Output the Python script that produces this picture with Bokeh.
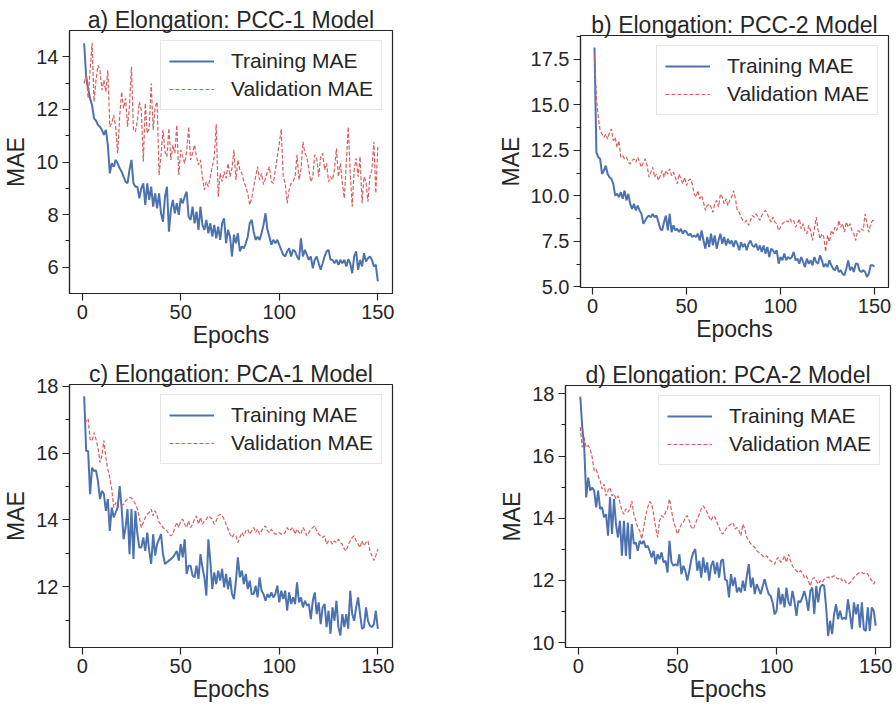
from bokeh.plotting import figure
from bokeh.models import Range1d, FixedTicker, PrintfTickFormatter, Legend, LegendItem
from bokeh.layouts import column, row
from bokeh.embed import file_html
from bokeh.resources import INLINE

epochs = list(range(1, 151))
x_ticks = [0, 50, 100, 150]

a_train = [14.51,13.24,12.80,12.42,12.16,11.66,11.57,11.41,11.34,11.22,
           11.03,11.22,10.65,9.57,9.95,9.82,10.08,9.95,9.76,9.63,
           9.44,9.25,9.19,9.70,10.08,9.19,9.06,9.06,8.62,9.00,
           9.19,8.37,9.19,8.56,9.06,8.30,8.81,8.24,8.81,8.05,
           7.73,8.68,9.06,7.35,8.18,8.56,8.05,8.43,7.99,8.62,
           8.43,8.68,8.87,7.92,7.80,8.30,7.67,8.11,7.42,8.30,
           7.61,7.42,7.80,7.29,7.67,7.16,7.61,7.10,7.54,7.04,
           7.67,7.86,6.91,7.42,7.16,6.41,7.23,6.91,7.29,6.60,
           6.79,6.72,6.91,7.16,7.67,7.80,7.35,7.04,7.16,7.04,
           7.29,7.61,8.05,7.42,7.16,6.85,7.04,6.91,7.04,6.85,
           6.66,6.47,6.41,6.60,6.72,6.41,6.66,6.60,6.41,6.28,
           7.10,6.41,6.66,6.47,6.28,6.41,5.96,6.28,6.41,6.15,
           5.90,6.15,6.41,6.60,6.66,6.28,6.28,6.15,6.28,6.09,
           6.28,6.15,6.28,6.03,6.30,6.15,5.77,6.41,6.60,5.90,
           6.28,6.03,6.53,6.22,6.34,6.41,6.28,6.03,6.09,5.46]
a_val = [12.99,13.37,12.42,13.49,14.53,12.29,13.11,13.68,13.49,12.73,
         13.11,12.67,13.49,11.34,11.47,11.79,11.34,10.33,11.72,12.67,
         12.04,12.42,11.34,12.16,13.62,11.22,11.15,11.59,12.29,11.98,
         10.01,12.23,11.09,11.28,12.99,11.22,12.10,12.29,9.51,10.27,
         11.22,10.39,10.20,11.28,10.08,10.65,10.33,11.41,9.51,10.46,
         10.20,9.95,10.39,11.34,10.08,10.33,10.65,10.20,9.89,10.08,
         9.44,8.94,9.25,9.06,9.44,9.82,10.20,11.43,8.68,9.57,
         9.25,9.63,9.38,9.95,9.44,9.76,10.46,9.32,10.08,9.70,
         9.57,9.25,9.06,8.81,8.37,8.62,9.06,9.44,9.82,9.32,
         9.57,9.14,9.38,9.63,9.82,9.25,9.19,9.70,10.20,10.71,
         11.25,9.44,9.19,8.43,8.94,9.19,9.25,9.44,10.27,9.32,
         9.70,10.77,10.33,10.20,9.70,9.25,9.44,10.27,10.14,9.44,
         10.20,10.33,9.70,9.95,9.25,9.44,9.32,9.70,10.52,9.44,
         9.95,9.19,8.62,9.95,11.34,9.57,8.30,9.70,10.14,9.44,
         10.20,8.43,9.44,9.25,8.49,9.44,9.70,10.77,8.81,10.58]

b_train = [18.14,12.40,12.12,12.03,11.20,11.39,11.66,11.20,11.02,10.93,
           10.66,10.02,10.11,9.93,10.20,9.84,10.29,9.75,10.11,9.56,
           9.29,9.56,9.20,9.47,9.20,9.01,8.47,8.65,8.83,8.92,
           8.83,9.01,8.83,8.92,8.56,8.19,8.10,8.56,8.92,8.10,
           9.01,8.01,8.38,8.10,8.19,8.01,8.19,7.92,8.10,8.01,
           7.83,7.92,7.74,7.83,7.74,7.92,7.55,8.10,7.55,7.10,
           7.74,7.19,7.92,7.28,7.83,7.10,7.55,7.92,7.37,7.74,
           7.28,7.64,7.37,7.55,7.19,7.55,7.37,7.01,7.46,7.19,
           7.37,7.01,7.37,7.55,7.28,7.19,7.37,7.01,7.28,6.92,
           7.28,6.83,7.19,6.64,7.10,7.01,6.83,7.01,6.28,6.64,
           6.46,6.83,6.46,6.64,6.55,6.64,6.92,6.46,6.55,6.28,
           6.64,6.37,6.09,6.55,6.28,6.46,6.19,6.64,6.37,6.28,
           6.73,6.46,6.09,6.28,6.09,6.46,6.19,6.00,5.91,6.19,
           5.82,5.91,5.73,5.64,6.00,6.46,5.91,6.09,5.82,6.28,
           6.28,5.91,5.82,5.91,5.82,5.55,5.73,6.19,6.19,6.13]
b_val = [17.77,15.40,14.31,13.58,13.39,13.21,13.39,13.12,13.48,13.67,
         13.03,13.21,12.66,13.03,12.12,12.21,12.03,12.12,11.84,11.75,
         11.93,12.03,11.84,12.12,11.84,11.57,11.84,12.03,11.66,11.02,
         11.30,11.57,11.02,11.20,10.84,11.11,11.39,11.02,11.39,11.20,
         11.48,11.11,11.30,11.02,10.66,11.20,10.93,10.66,11.02,10.57,
         10.84,10.93,10.66,10.11,9.93,10.29,9.84,10.02,9.65,9.20,
         9.47,9.56,9.38,9.10,9.56,9.75,9.38,10.11,9.93,9.56,
         9.84,9.47,9.75,9.93,10.29,9.84,9.20,9.10,8.83,8.65,
         8.56,8.65,8.38,8.65,8.92,8.83,9.01,8.83,8.65,8.92,
         9.10,9.20,9.01,8.74,8.56,8.83,8.56,8.47,8.10,8.28,
         8.47,8.56,8.65,8.56,8.74,8.56,8.65,8.28,8.47,8.74,
         8.19,8.47,8.10,7.92,8.38,8.10,7.55,8.19,8.83,8.10,
         7.64,7.92,7.74,6.92,7.83,7.46,8.10,7.92,8.28,8.10,
         8.65,8.28,8.47,8.01,8.56,8.28,8.47,8.10,7.92,7.55,
         8.10,8.01,8.19,8.10,9.01,8.47,8.01,8.47,8.65,8.65]

c_train = [17.70,16.06,16.06,14.77,15.56,15.46,15.48,15.16,14.62,14.87,
           14.77,14.27,14.62,13.67,14.37,14.07,14.22,14.37,15.01,14.37,
           13.42,13.77,14.32,12.97,14.32,12.83,14.27,13.57,13.17,13.17,
           13.47,13.07,13.62,13.07,12.68,13.57,12.93,13.27,13.42,13.57,
           12.97,12.68,12.73,12.78,12.83,12.88,12.97,13.07,12.78,13.27,
           12.88,13.42,12.38,12.63,12.63,12.33,12.28,12.63,12.23,12.97,
           12.58,12.28,11.73,13.42,12.78,11.93,12.43,12.08,12.48,12.18,
           12.53,11.98,12.38,11.93,12.28,11.78,11.63,12.18,12.88,12.28,
           12.48,12.08,12.38,11.93,12.18,11.78,11.78,12.03,11.68,12.28,
           11.88,11.78,11.58,11.78,11.68,11.83,11.68,11.78,12.03,11.53,
           11.88,11.63,11.88,11.28,11.83,11.48,11.68,11.48,12.13,11.53,
           11.68,11.38,11.58,11.43,11.48,11.03,11.58,11.83,11.18,11.53,
           10.88,11.38,11.48,10.79,11.28,10.59,11.38,10.98,11.58,10.79,
           10.54,11.18,10.79,11.18,10.74,11.88,11.18,10.98,11.38,11.68,
           11.18,10.74,10.79,11.38,10.98,10.83,10.79,10.88,11.28,10.74]
c_val = [17.00,16.95,17.03,16.41,16.36,16.61,16.41,16.16,15.71,15.91,
         16.38,15.86,15.51,15.26,14.91,14.37,14.52,14.37,14.42,14.42,
         14.47,14.57,14.62,14.67,14.65,14.57,14.47,14.32,14.07,13.77,
         13.92,14.07,14.17,14.22,14.32,14.12,14.27,14.12,13.92,13.87,
         13.77,13.72,13.67,13.57,13.52,13.57,13.77,13.92,13.77,13.97,
         14.02,13.87,13.77,13.97,13.77,13.87,14.02,14.12,13.87,14.07,
         13.87,13.97,14.02,14.12,14.07,14.02,13.87,13.97,14.12,14.17,
         14.12,14.02,13.87,13.72,13.57,13.47,13.57,13.52,13.32,13.47,
         13.62,13.52,13.67,13.72,13.57,13.67,13.77,13.62,13.72,13.57,
         13.67,13.77,13.82,13.67,13.62,13.72,13.62,13.57,13.57,13.62,
         13.57,13.57,13.62,13.77,13.67,13.72,13.77,13.57,13.72,13.62,
         13.57,13.77,13.67,13.52,13.62,13.72,13.77,13.82,13.67,13.57,
         13.52,13.47,13.52,13.27,13.37,13.37,13.27,13.37,13.32,13.42,
         13.32,13.27,13.12,13.07,13.27,13.37,13.47,13.52,13.37,13.27,
         13.17,13.37,13.22,13.32,13.37,13.07,12.93,12.78,12.93,13.12]

d_train = [17.91,16.93,16.28,14.67,15.31,14.89,14.99,14.89,14.35,14.89,
           14.30,14.35,14.03,14.13,13.44,14.67,13.49,14.62,13.81,13.38,
           13.92,12.79,13.92,12.79,13.86,12.68,13.81,13.17,13.22,12.95,
           13.27,13.17,13.27,13.06,13.11,12.95,12.74,12.95,12.52,12.84,
           12.68,12.90,12.58,12.63,12.25,13.27,12.58,12.47,12.52,12.47,
           12.84,12.20,12.47,12.31,11.99,12.31,12.68,12.90,13.01,12.31,
           12.63,12.09,12.74,12.25,12.58,11.99,12.47,12.63,12.20,12.58,
           12.09,12.63,12.68,12.04,11.99,11.45,12.20,11.82,12.09,11.61,
           11.77,11.61,11.99,11.66,12.15,12.52,11.77,12.09,11.56,11.88,
           11.72,11.56,11.82,12.04,11.77,11.56,11.50,11.29,10.91,11.02,
           11.77,11.23,11.56,11.13,11.77,11.29,11.18,11.66,11.34,10.86,
           11.34,11.29,11.45,11.66,11.39,11.02,11.66,11.77,10.91,11.82,
           11.29,11.77,11.86,11.82,11.13,10.21,10.70,10.27,10.91,11.23,
           10.75,11.02,10.75,10.80,10.75,11.39,10.91,10.43,11.29,10.91,
           11.23,10.48,11.29,10.43,10.37,11.13,10.37,11.13,11.02,10.54]
d_val = [16.93,16.28,16.60,16.28,16.34,16.23,15.96,15.53,15.58,15.37,
         15.21,14.94,15.10,14.72,14.89,14.99,14.72,14.78,14.62,14.72,
         14.51,14.24,14.13,14.30,14.19,14.30,14.56,14.13,13.92,13.70,
         13.60,13.33,13.70,14.08,14.35,14.54,14.46,14.13,13.70,13.38,
         13.92,14.08,14.03,14.19,14.30,14.62,14.24,13.92,13.70,13.49,
         13.65,13.81,13.86,14.03,14.08,13.92,13.70,13.65,13.81,13.97,
         14.13,14.30,14.40,14.30,14.19,14.03,13.92,14.08,14.03,13.86,
         13.70,13.54,13.49,13.60,13.70,13.76,13.81,13.86,13.65,13.70,
         13.60,13.44,13.81,13.65,13.38,13.27,13.17,13.11,13.06,12.95,
         12.90,12.84,12.79,12.74,12.79,12.68,12.63,12.58,12.52,12.68,
         12.74,12.58,12.63,12.79,12.58,12.84,12.63,12.47,12.36,12.31,
         12.25,12.31,12.25,12.09,12.15,11.99,11.82,12.04,12.09,11.99,
         11.88,11.99,11.93,12.04,12.09,12.11,12.06,12.11,12.15,12.09,
         12.04,12.09,11.99,12.04,11.93,11.88,11.93,11.99,12.09,12.15,
         12.22,12.25,12.25,12.22,12.25,12.20,12.09,11.99,11.88,12.01]

titles = ["a) Elongation: PCC-1 Model", "b) Elongation: PCC-2 Model",
          "c) Elongation: PCA-1 Model", "d) Elongation: PCA-2 Model"]
labels = ["Training MAE", "Validation MAE"]

FONT = "Liberation Sans"
TXT = "#262626"
BLUE = "#4C72B0"
RED = "#D65F5F"


def make_panel(title, train, val, yr, yticks, yminor, yfmt, w, h, bl, br, bt, bb):
    p = figure(width=w, height=h, x_range=Range1d(-6.45, 157.45), y_range=Range1d(*yr),
               output_backend="svg", toolbar_location=None, title=title,
               min_border_left=bl, min_border_right=br, min_border_top=bt, min_border_bottom=bb)
    try:
        p.frame_align = False
    except Exception:
        pass
    p.background_fill_color = "white"
    p.border_fill_color = "white"
    p.outline_line_color = TXT
    p.outline_line_width = 1.2
    p.xgrid.visible = False
    p.ygrid.visible = False

    p.title.text_font = FONT
    p.title.text_font_size = "23px"
    p.title.text_font_style = "normal"
    p.title.text_color = TXT
    p.title.align = "center"
    try:
        p.title.standoff = -4
    except Exception:
        p.title.standoff = 0

    for ax in (p.xaxis, p.yaxis):
        ax.axis_line_color = TXT
        ax.axis_line_width = 1.2
        ax.major_tick_line_color = TXT
        ax.major_tick_line_width = 1.2
        ax.minor_tick_line_color = TXT
        ax.minor_tick_line_width = 1.0
        ax.major_tick_out = 7
        ax.major_tick_in = 0
        ax.minor_tick_out = 4
        ax.minor_tick_in = 0
        ax.major_label_text_font = FONT
        ax.major_label_text_font_size = "20px"
        ax.major_label_text_color = TXT
        ax.major_label_standoff = 4
        ax.axis_label_text_font = FONT
        ax.axis_label_text_font_size = "23px"
        ax.axis_label_text_font_style = "normal"
        ax.axis_label_text_color = TXT
        ax.axis_label_standoff = 0

    p.xaxis.ticker = FixedTicker(ticks=x_ticks, minor_ticks=[])
    p.xaxis.minor_tick_line_color = None
    p.yaxis.ticker = FixedTicker(ticks=yticks, minor_ticks=yminor)
    p.yaxis.formatter = PrintfTickFormatter(format=yfmt)
    p.yaxis.axis_label_standoff = 4
    p.xaxis.axis_label = "Epochs"
    p.yaxis.axis_label = "MAE"

    r1 = p.line(epochs, train, line_color=BLUE, line_width=2.0)
    r2 = p.line(epochs, val, line_color=RED, line_width=1.2, line_dash="4 2")

    leg = Legend(items=[LegendItem(label=labels[0], renderers=[r1]),
                        LegendItem(label=labels[1], renderers=[r2])],
                 location="top_right")
    leg.label_text_font = FONT
    leg.label_text_font_size = "21px"
    leg.label_text_color = TXT
    leg.glyph_width = 45
    leg.glyph_height = 20
    leg.label_height = 20
    leg.label_standoff = 17
    leg.spacing = 4
    leg.padding = 8
    leg.margin = 10
    leg.border_line_color = "#cccccc"
    leg.border_line_width = 1
    leg.background_fill_color = "white"
    leg.background_fill_alpha = 0.8
    p.add_layout(leg)
    return p


pa = make_panel(titles[0], a_train, a_val, (5.0, 15.0), [6, 8, 10, 12, 14], [7, 9, 11, 13], "%d",
                490, 352, 67, 98, 30, 59)
pb = make_panel(titles[1], b_train, b_val, (4.97, 18.8), [5, 7.5, 10, 12.5, 15, 17.5],
                [6.25, 8.75, 11.25, 13.75, 16.25, 18.75], "%.1f",
                406, 352, 90, 8, 35, 65)
pc = make_panel(titles[2], c_train, c_val, (10.18, 18.05), [12, 14, 16, 18], [11, 13, 15, 17], "%d",
                490, 353, 67, 98, 32, 58)
pd = make_panel(titles[3], d_train, d_val, (9.84, 18.27), [10, 12, 14, 16, 18], [11, 13, 15, 17], "%d",
                406, 353, 75, 6, 33, 58)

layout = column(row(pa, pb), row(pc, pd))
open("out.html", "w").write(file_html(layout, INLINE))
